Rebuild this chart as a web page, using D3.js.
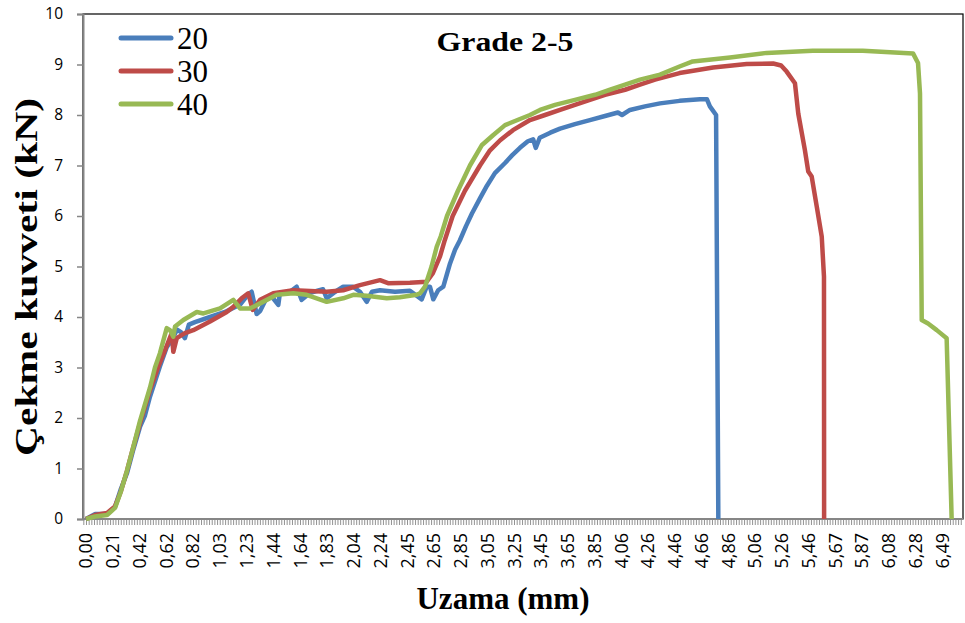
<!DOCTYPE html>
<html>
<head>
<meta charset="utf-8">
<script src="https://cdn.jsdelivr.net/npm/d3@7/dist/d3.min.js"></script>
<style>
  html, body { margin: 0; padding: 0; background: #fff; }
  svg { display: block; }
</style>
</head>
<body>
<svg id="chart" width="965" height="623"></svg>
<script>
// ---------------- DATA ----------------
const seriesNames = ["20", "30", "40"];
const seriesColors = ["#4A7EBB", "#BE4B48", "#98B954"];

const xTickLabels = ["0,00","0,21","0,42","0,62","0,82","1,03","1,23","1,44","1,64","1,83","2,04","2,24","2,45","2,65","2,85","3,05","3,25","3,45","3,65","3,85","4,06","4,26","4,46","4,66","4,86","5,06","5,26","5,46","5,67","5,87","6,08","6,28","6,49"];
const yTicks = [0,1,2,3,4,5,6,7,8,9,10];

// elongation (mm), force (kN)
const s20x = [0.00,0.07,0.16,0.22,0.265,0.31,0.356,0.41,0.447,0.485,0.56,0.612,0.652,0.69,0.72,0.75,0.78,0.826,0.94,1.054,1.17,1.23,1.256,1.294,1.32,1.37,1.41,1.458,1.47,1.547,1.597,1.635,1.70,1.797,1.825,1.89,1.95,2.024,2.077,2.128,2.168,2.229,2.343,2.456,2.545,2.583,2.608,2.633,2.67,2.709,2.76,2.798,2.835,2.881,2.926,2.987,3.04,3.10,3.177,3.23,3.29,3.35,3.39,3.41,3.44,3.52,3.594,3.707,3.82,3.935,4.033,4.064,4.124,4.238,4.352,4.50,4.655,4.708,4.73,4.777,4.794];
const s20y = [0.00,0.10,0.10,0.24,0.60,0.90,1.35,1.83,2.05,2.42,3.02,3.40,3.55,3.75,3.70,3.58,3.85,3.90,4.00,4.10,4.25,4.45,4.50,4.06,4.12,4.38,4.40,4.24,4.47,4.50,4.60,4.34,4.48,4.55,4.37,4.50,4.60,4.60,4.50,4.30,4.50,4.53,4.50,4.52,4.35,4.60,4.60,4.35,4.53,4.60,5.06,5.33,5.52,5.80,6.05,6.35,6.60,6.85,7.05,7.20,7.35,7.48,7.52,7.35,7.55,7.65,7.73,7.82,7.90,7.98,8.05,8.00,8.10,8.17,8.23,8.28,8.31,8.31,8.17,8.00,0.00];

const s30x = [0.00,0.068,0.16,0.22,0.265,0.31,0.356,0.41,0.485,0.546,0.60,0.63,0.65,0.662,0.688,0.75,0.813,0.94,1.067,1.117,1.18,1.23,1.264,1.32,1.42,1.572,1.825,1.95,2.077,2.229,2.29,2.456,2.583,2.63,2.684,2.72,2.78,2.873,2.987,3.063,3.14,3.237,3.366,3.48,3.594,3.707,3.82,3.935,4.087,4.20,4.314,4.50,4.754,5.009,5.21,5.27,5.312,5.375,5.40,5.45,5.476,5.502,5.54,5.578,5.595,5.596];
const s30y = [0.00,0.08,0.12,0.25,0.55,0.95,1.40,1.90,2.55,3.00,3.35,3.55,3.68,3.31,3.58,3.68,3.74,3.91,4.10,4.20,4.37,4.47,4.14,4.34,4.47,4.53,4.50,4.53,4.63,4.73,4.67,4.68,4.70,4.87,5.20,5.52,6.00,6.50,7.00,7.30,7.50,7.70,7.90,8.00,8.10,8.20,8.30,8.40,8.50,8.60,8.70,8.83,8.94,9.01,9.02,8.98,8.86,8.63,8.03,7.31,6.88,6.78,6.19,5.59,4.80,0.00];

const s40x = [0.00,0.068,0.16,0.22,0.265,0.31,0.356,0.41,0.485,0.523,0.56,0.612,0.637,0.662,0.675,0.738,0.84,0.89,1.016,1.117,1.168,1.243,1.32,1.446,1.572,1.673,1.825,1.95,2.027,2.128,2.28,2.38,2.507,2.532,2.57,2.62,2.659,2.69,2.737,2.82,2.911,3.00,3.086,3.177,3.29,3.366,3.442,3.556,3.707,3.86,3.973,4.087,4.20,4.352,4.50,4.60,4.883,5.16,5.51,5.89,6.27,6.308,6.323,6.336,6.384,6.45,6.525,6.563];
const s40y = [0.00,0.05,0.08,0.22,0.55,0.95,1.40,1.95,2.60,3.00,3.28,3.78,3.74,3.61,3.81,3.94,4.10,4.07,4.17,4.34,4.17,4.17,4.27,4.44,4.47,4.44,4.30,4.37,4.44,4.42,4.37,4.39,4.44,4.47,4.60,5.00,5.39,5.60,6.00,6.50,7.00,7.40,7.60,7.80,7.92,8.00,8.10,8.20,8.30,8.40,8.50,8.60,8.70,8.80,8.96,9.06,9.14,9.23,9.27,9.27,9.22,9.03,8.43,3.94,3.87,3.74,3.58,0.00];

// ---------------- LAYOUT ----------------
const svg = d3.select("#chart");
const ml = 83, mt = 14, pw = 880, ph = 505;
const g = svg.append("g").attr("transform", `translate(${ml},${mt})`);

const x = d3.scaleLinear().domain([-0.0227, 6.649]).range([0, pw]);
const y = d3.scaleLinear().domain([0, 10]).range([ph, 0]);

// plot area frame (top & right black)
g.append("rect").attr("x", 0).attr("y", 0).attr("width", pw).attr("height", ph)
  .attr("fill", "none").attr("stroke", "#000").attr("stroke-width", 1.2);

// Y axis
const yAxis = d3.axisLeft(y).tickValues(yTicks).tickSize(6).tickPadding(14).tickFormat(d3.format("d"));
const ya = g.append("g").call(yAxis);
ya.select(".domain").attr("stroke", "#868686").attr("stroke-width", 2);
ya.selectAll(".tick line").attr("stroke", "#868686").attr("stroke-width", 1.5);
ya.selectAll(".tick text").attr("font-family", "'Open Sans', sans-serif").attr("font-size", 15.5).attr("fill", "#000");

// X axis: minor category ticks
const nLab = xTickLabels.length - 1;
const labStep = 6.49 / nLab;
const catStep = labStep / 10;
const minorVals = d3.range(Math.ceil(x.domain()[0] / catStep), Math.floor(x.domain()[1] / catStep) + 1).map(i => i * catStep);
const xMinor = d3.axisBottom(x).tickValues(minorVals).tickSize(6).tickFormat("");
const xa = g.append("g").attr("transform", `translate(0,${ph})`).call(xMinor);
xa.select(".domain").remove();
xa.selectAll(".tick line").attr("stroke", "#868686").attr("stroke-width", 0.9);
g.append("line").attr("x1", 0).attr("x2", pw).attr("y1", ph).attr("y2", ph)
  .attr("stroke", "#868686").attr("stroke-width", 2);

// X tick labels (rotated)
const labG = g.append("g").attr("transform", `translate(0,${ph})`);
labG.selectAll("text").data(xTickLabels).enter().append("text")
  .attr("transform", (d, i) => `translate(${x(i * labStep) + 6.5},14) rotate(-90)`)
  .attr("text-anchor", "end")
  .attr("font-family", "'Open Sans', sans-serif")
  .attr("font-size", 18)
  .attr("fill", "#000")
  .text(d => d);

// Lines
const seriesX = [s20x, s30x, s40x];
const seriesY = [s20y, s30y, s40y];
const line = d3.line().x(d => x(d[0])).y(d => y(d[1]));
seriesNames.forEach((name, k) => {
  const pts = d3.zip(seriesX[k], seriesY[k]);
  g.append("path").datum(pts)
    .attr("d", line)
    .attr("fill", "none")
    .attr("stroke", seriesColors[k])
    .attr("stroke-width", 4.5)
    .attr("stroke-linejoin", "round")
    .attr("stroke-linecap", "butt");
});

// Legend
const leg = svg.append("g");
seriesNames.forEach((name, k) => {
  const yy = 38 + k * 33;
  leg.append("line").attr("x1", 121).attr("x2", 171).attr("y1", yy).attr("y2", yy)
    .attr("stroke", seriesColors[k]).attr("stroke-width", 5).attr("stroke-linecap", "round");
  leg.append("text").attr("x", 177).attr("y", yy + 10.5)
    .attr("font-family", "'Liberation Serif', 'Times New Roman', serif")
    .attr("font-size", 31).attr("fill", "#000").text(name);
});

// Title
svg.append("text").attr("x", 505).attr("y", 51).attr("text-anchor", "middle")
  .attr("font-family", "'Liberation Serif', 'Times New Roman', serif")
  .attr("font-weight", "bold").attr("font-size", 28).attr("fill", "#000")
  .attr("textLength", 137).attr("lengthAdjust", "spacingAndGlyphs")
  .text("Grade 2-5");

// Axis titles
svg.append("text").attr("x", 503).attr("y", 609).attr("text-anchor", "middle")
  .attr("font-family", "'Liberation Serif', 'Times New Roman', serif")
  .attr("font-weight", "bold").attr("font-size", 31).attr("fill", "#000")
  .text("Uzama (mm)");

svg.append("text").attr("transform", "translate(37,277) rotate(-90)").attr("text-anchor", "middle")
  .attr("font-family", "'Liberation Serif', 'Times New Roman', serif")
  .attr("font-weight", "bold").attr("font-size", 31).attr("fill", "#000")
  .attr("textLength", 358).attr("lengthAdjust", "spacingAndGlyphs")
  .text("Çekme kuvveti (kN)");
</script>
</body>
</html>
